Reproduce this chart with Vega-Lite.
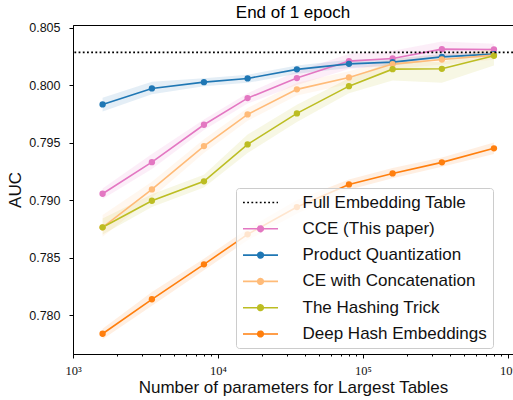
{
  "$schema": "https://vega.github.io/schema/vega-lite/v6.json",
  "width": 440,
  "height": 329,
  "autosize": "none",
  "padding": {"left": 73, "top": 25, "right": 0, "bottom": 46},
  "background": "white",
  "title": {"text": "End of 1 epoch", "fontSize": 17, "fontWeight": "normal", "font": "Liberation Sans", "color": "black", "anchor": "middle", "frame": "group", "baseline": "alphabetic", "offset": -13},
  "data": {"values": [
    {"m": "Full Embedding Table", "x": null, "y": 0.80284, "lo": null, "hi": null},
    {"m": "CCE (This paper)", "x": 1600, "y": 0.79055, "lo": 0.7901, "hi": 0.7910},
    {"m": "CCE (This paper)", "x": 3500, "y": 0.79330, "lo": 0.7927, "hi": 0.7940},
    {"m": "CCE (This paper)", "x": 8000, "y": 0.79655, "lo": 0.7961, "hi": 0.7970},
    {"m": "CCE (This paper)", "x": 16000, "y": 0.79887, "lo": 0.7984, "hi": 0.7993},
    {"m": "CCE (This paper)", "x": 35000, "y": 0.80061, "lo": 0.8000, "hi": 0.8012},
    {"m": "CCE (This paper)", "x": 80000, "y": 0.80209, "lo": 0.8014, "hi": 0.8027},
    {"m": "CCE (This paper)", "x": 160000, "y": 0.80232, "lo": 0.8017, "hi": 0.8030},
    {"m": "CCE (This paper)", "x": 350000, "y": 0.80313, "lo": 0.8025, "hi": 0.8038},
    {"m": "CCE (This paper)", "x": 800000, "y": 0.80310, "lo": 0.8026, "hi": 0.8036},
    {"m": "Product Quantization", "x": 1600, "y": 0.79832, "lo": 0.7977, "hi": 0.7989},
    {"m": "Product Quantization", "x": 3500, "y": 0.79971, "lo": 0.7992, "hi": 0.8003},
    {"m": "Product Quantization", "x": 8000, "y": 0.80026, "lo": 0.7999, "hi": 0.8006},
    {"m": "Product Quantization", "x": 16000, "y": 0.80058, "lo": 0.8002, "hi": 0.8009},
    {"m": "Product Quantization", "x": 35000, "y": 0.80137, "lo": 0.8010, "hi": 0.8017},
    {"m": "Product Quantization", "x": 80000, "y": 0.80185, "lo": 0.8015, "hi": 0.8022},
    {"m": "Product Quantization", "x": 160000, "y": 0.80200, "lo": 0.8017, "hi": 0.8023},
    {"m": "Product Quantization", "x": 350000, "y": 0.80246, "lo": 0.8022, "hi": 0.8027},
    {"m": "Product Quantization", "x": 800000, "y": 0.80270, "lo": 0.8025, "hi": 0.8029},
    {"m": "CE with Concatenation", "x": 1600, "y": 0.78763, "lo": 0.7868, "hi": 0.7887},
    {"m": "CE with Concatenation", "x": 3500, "y": 0.79093, "lo": 0.7902, "hi": 0.7916},
    {"m": "CE with Concatenation", "x": 8000, "y": 0.79470, "lo": 0.7941, "hi": 0.7953},
    {"m": "CE with Concatenation", "x": 16000, "y": 0.79745, "lo": 0.7969, "hi": 0.7980},
    {"m": "CE with Concatenation", "x": 35000, "y": 0.79963, "lo": 0.7991, "hi": 0.8002},
    {"m": "CE with Concatenation", "x": 80000, "y": 0.80067, "lo": 0.8001, "hi": 0.8012},
    {"m": "CE with Concatenation", "x": 160000, "y": 0.80183, "lo": 0.8014, "hi": 0.8023},
    {"m": "CE with Concatenation", "x": 350000, "y": 0.80223, "lo": 0.8018, "hi": 0.8027},
    {"m": "CE with Concatenation", "x": 800000, "y": 0.80261, "lo": 0.8022, "hi": 0.8031},
    {"m": "The Hashing Trick", "x": 1600, "y": 0.78763, "lo": 0.7870, "hi": 0.7884},
    {"m": "The Hashing Trick", "x": 3500, "y": 0.78994, "lo": 0.7894, "hi": 0.7905},
    {"m": "The Hashing Trick", "x": 8000, "y": 0.79163, "lo": 0.7911, "hi": 0.7922},
    {"m": "The Hashing Trick", "x": 16000, "y": 0.79484, "lo": 0.7941, "hi": 0.7957},
    {"m": "The Hashing Trick", "x": 35000, "y": 0.79754, "lo": 0.7968, "hi": 0.7983},
    {"m": "The Hashing Trick", "x": 80000, "y": 0.79991, "lo": 0.7993, "hi": 0.8006},
    {"m": "The Hashing Trick", "x": 160000, "y": 0.80139, "lo": 0.8004, "hi": 0.8021},
    {"m": "The Hashing Trick", "x": 350000, "y": 0.80142, "lo": 0.8002, "hi": 0.8020},
    {"m": "The Hashing Trick", "x": 800000, "y": 0.80255, "lo": 0.8017, "hi": 0.8033},
    {"m": "Deep Hash Embeddings", "x": 1600, "y": 0.77837, "lo": 0.7779, "hi": 0.7788},
    {"m": "Deep Hash Embeddings", "x": 3500, "y": 0.78137, "lo": 0.7808, "hi": 0.7820},
    {"m": "Deep Hash Embeddings", "x": 8000, "y": 0.78441, "lo": 0.7839, "hi": 0.7849},
    {"m": "Deep Hash Embeddings", "x": 16000, "y": 0.78702, "lo": 0.7865, "hi": 0.7875},
    {"m": "Deep Hash Embeddings", "x": 35000, "y": 0.78939, "lo": 0.7888, "hi": 0.7900},
    {"m": "Deep Hash Embeddings", "x": 80000, "y": 0.79136, "lo": 0.7909, "hi": 0.7918},
    {"m": "Deep Hash Embeddings", "x": 160000, "y": 0.79232, "lo": 0.7919, "hi": 0.7928},
    {"m": "Deep Hash Embeddings", "x": 350000, "y": 0.79328, "lo": 0.7929, "hi": 0.7937},
    {"m": "Deep Hash Embeddings", "x": 800000, "y": 0.79450, "lo": 0.7940, "hi": 0.7950}
  ]},
  "encoding": {
    "color": {
      "field": "m", "type": "nominal",
      "scale": {
        "domain": ["Full Embedding Table", "CCE (This paper)", "Product Quantization", "CE with Concatenation", "The Hashing Trick", "Deep Hash Embeddings"],
        "range": ["#000000", "#e377c2", "#1f77b4", "#ffbb78", "#bcbd22", "#ff7f0e"]
      },
      "legend": {
        "title": null,
        "orient": "none",
        "legendX": 163,
        "legendY": 163,
        "padding": 6,
        "rowPadding": 8.3,
        "symbolOffset": 10,
        "labelOffset": 33.5,
        "symbolSize": 196,
        "symbolStrokeWidth": 1.6,
        "symbolType": "M-2.5,0H2.5M-0.4,0A0.4,0.4,0,1,1,0.4,0A0.4,0.4,0,1,1,-0.4,0Z",
        "labelFontSize": 17,
        "labelFont": "Liberation Sans",
        "labelColor": "#111111",
        "labelLimit": 400,
        "labelExpr": "datum.label + '     '",
        "fillColor": "rgba(255,255,255,0.8)",
        "strokeColor": "#cccccc",
        "cornerRadius": 3,
        "encode": {
          "symbols": {
            "update": {
              "fill": {"signal": "datum.value === 'Full Embedding Table' ? 'transparent' : scale('color', datum.value)"},
              "stroke": {"scale": "color", "field": "value"},
              "shape": {"signal": "datum.value === 'Full Embedding Table' ? 'M-2.5,0H2.5' : 'M-2.5,0H2.5M-0.4,0A0.4,0.4,0,1,1,0.4,0A0.4,0.4,0,1,1,-0.4,0Z'"},
              "strokeDash": {"signal": "datum.value === 'Full Embedding Table' ? [1.8, 2.4] : [1, 0]"},
              "opacity": {"value": 1}
            }
          }
        }
      }
    }
  },
  "layer": [
    {
      "transform": [{"filter": "datum.m !== 'Full Embedding Table'"}],
      "mark": {"type": "area", "opacity": 0.12},
      "encoding": {
        "x": {"field": "x", "type": "quantitative", "scale": {"type": "log", "domain": [1000, 1082600], "nice": false},
          "axis": {"title": "Number of parameters for Largest Tables", "values": [1000,2000,3000,4000,5000,6000,7000,8000,9000,10000,20000,30000,40000,50000,60000,70000,80000,90000,100000,200000,300000,400000,500000,600000,700000,800000,900000,1000000],
            "labelExpr": "datum.value == 1000 ? '10³' : datum.value == 10000 ? '10⁴' : datum.value == 100000 ? '10⁵' : datum.value == 1000000 ? '10⁶' : ''",
            "labelFont": "Liberation Serif", "labelFontSize": 12.5, "labelPadding": 6, "titlePadding": 3, "labelFlush": false, "labelOverlap": false, "labelBound": false,
            "tickSize": {"condition": {"test": "indexof([1000,10000,100000,1000000], datum.value) >= 0", "value": 4}, "value": 2}}},
        "y": {"field": "lo", "type": "quantitative", "title": "AUC"},
        "y2": {"field": "hi"}
      }
    },
    {
      "transform": [{"filter": "datum.m !== 'Full Embedding Table'"}],
      "mark": {"type": "line", "strokeWidth": 1.6},
      "encoding": {
        "x": {"field": "x", "type": "quantitative", "scale": {"type": "log", "domain": [1000, 1082600], "nice": false},
          "axis": {"title": "Number of parameters for Largest Tables", "values": [1000,2000,3000,4000,5000,6000,7000,8000,9000,10000,20000,30000,40000,50000,60000,70000,80000,90000,100000,200000,300000,400000,500000,600000,700000,800000,900000,1000000],
            "labelExpr": "datum.value == 1000 ? '10³' : datum.value == 10000 ? '10⁴' : datum.value == 100000 ? '10⁵' : datum.value == 1000000 ? '10⁶' : ''",
            "labelFont": "Liberation Serif", "labelFontSize": 12.5, "labelPadding": 6, "titlePadding": 3, "labelFlush": false, "labelOverlap": false, "labelBound": false,
            "tickSize": {"condition": {"test": "indexof([1000,10000,100000,1000000], datum.value) >= 0", "value": 4}, "value": 2}}},
        "y": {"field": "y", "type": "quantitative", "title": "AUC",
          "scale": {"domain": [0.77661, 0.80523], "nice": false, "zero": false},
          "axis": {"title": "AUC", "values": [0.78, 0.785, 0.79, 0.795, 0.8, 0.805], "format": ".3f", "tickSize": 4, "labelPadding": 9, "titlePadding": 4, "labelFontSize": 12.5}}
      }
    },
    {
      "transform": [{"filter": "datum.m !== 'Full Embedding Table'"}],
      "mark": {"type": "point", "filled": true, "size": 40, "opacity": 1},
      "encoding": {
        "x": {"field": "x", "type": "quantitative", "scale": {"type": "log", "domain": [1000, 1082600], "nice": false},
          "axis": {"title": "Number of parameters for Largest Tables", "values": [1000,2000,3000,4000,5000,6000,7000,8000,9000,10000,20000,30000,40000,50000,60000,70000,80000,90000,100000,200000,300000,400000,500000,600000,700000,800000,900000,1000000],
            "labelExpr": "datum.value == 1000 ? '10³' : datum.value == 10000 ? '10⁴' : datum.value == 100000 ? '10⁵' : datum.value == 1000000 ? '10⁶' : ''",
            "labelFont": "Liberation Serif", "labelFontSize": 12.5, "labelPadding": 6, "titlePadding": 3, "labelFlush": false, "labelOverlap": false, "labelBound": false,
            "tickSize": {"condition": {"test": "indexof([1000,10000,100000,1000000], datum.value) >= 0", "value": 4}, "value": 2}}},
        "y": {"field": "y", "type": "quantitative", "title": "AUC"}
      }
    },
    {
      "transform": [{"filter": "datum.m === 'Full Embedding Table'"}],
      "mark": {"type": "rule", "strokeWidth": 1.8, "strokeDash": [1.8, 2.4]},
      "encoding": {
        "y": {"field": "y", "type": "quantitative", "title": "AUC"}
      }
    }
  ],
  "config": {
    "font": "Liberation Sans",
    "view": {"stroke": "black", "strokeWidth": 1},
    "axis": {
      "grid": false,
      "domainColor": "black",
      "domainWidth": 1,
      "tickColor": "black",
      "tickWidth": 1,
      "labelColor": "#111111",
      "titleColor": "#111111",
      "titleFontSize": 17,
      "titleFontWeight": "normal",
      "titleFont": "Liberation Sans"
    }
  }
}
